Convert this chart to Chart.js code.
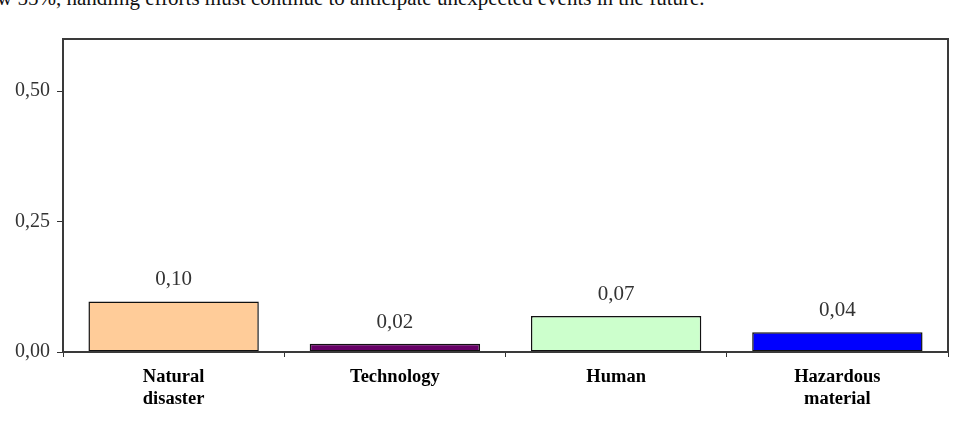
<!DOCTYPE html>
<html>
<head>
<meta charset="utf-8">
<script src="https://cdn.jsdelivr.net/npm/chart.js@4.4.1/dist/chart.umd.min.js"></script>
<style>
	html, body { margin: 0; padding: 0; background: #fff; overflow: hidden; }
	#wrap { position: relative; width: 963px; height: 421px; }
	#note {
		position: absolute; left: -3px; top: -12px; white-space: nowrap; line-height: 21px;
		font-family: 'Liberation Serif', 'Times New Roman', serif; font-size: 21px; color: #111;
	}
	#myChart { position: absolute; left: 0; top: 0; }
</style>
</head>
<body>
<div id="wrap">
	<div id="note">w 55%, handling efforts must continue to anticipate unexpected events in the future.</div>
	<canvas id="myChart" width="963" height="421"></canvas>
</div>
<script>
// data
var categories = [['Natural', 'disaster'], 'Technology', 'Human', ['Hazardous', 'material']];
var values = [0.097, 0.016, 0.069, 0.038];
var barColors = ['#FFCC99', '#660066', '#CCFFCC', '#0000FF'];
var yTicks = [0, 0.25, 0.5];

function comma(v) {
	return v.toFixed(2).replace('.', ',');
}

// value labels above each bar
var valueLabels = {
	id: 'valueLabels',
	afterDatasetsDraw: function(chart) {
		var ctx = chart.ctx;
		var meta = chart.getDatasetMeta(0);
		ctx.save();
		ctx.font = '21px "Liberation Serif", serif';
		ctx.fillStyle = '#333';
		ctx.textAlign = 'center';
		ctx.textBaseline = 'alphabetic';
		meta.data.forEach(function(bar, i) {
			ctx.fillText(comma(values[i]), bar.x, bar.y - 16);
		});
		ctx.restore();
	}
};

// box round the plot area
var frame = {
	id: 'frame',
	afterDraw: function(chart) {
		var a = chart.chartArea;
		var ctx = chart.ctx;
		ctx.save();
		ctx.strokeStyle = '#3a3a3a';
		ctx.lineWidth = 2;
		ctx.strokeRect(a.left, a.top, a.right - a.left, a.bottom - a.top);
		ctx.restore();
	}
};

var ctx = document.getElementById('myChart').getContext('2d');
var myChart = new Chart(ctx, {
	type: 'bar',
	data: {
		labels: categories,
		datasets: [
			{
				data: values,
				backgroundColor: barColors,
				borderColor: '#111',
				borderWidth: 1.5,
				borderSkipped: false,
				barPercentage: 0.77,
				categoryPercentage: 1,
			},
		],
	},
	options: {
		responsive: false,
		animation: false,
		layout: { padding: { left: 0, right: 15, top: 39, bottom: 0 } },
		plugins: {
			legend: { display: false },
			tooltip: { enabled: false },
		},
		scales: {
			x: {
				grid: { display: true, drawOnChartArea: false, tickLength: 5, tickColor: '#333', offset: true },
				border: { display: false },
				ticks: {
					color: '#000',
					padding: 9,
					maxRotation: 0,
					font: { family: '"Liberation Serif", serif', size: 18.5, weight: 'bold', lineHeight: 1.2 },
				},
				afterFit: function(s) { s.height = 69; },
			},
			y: {
				min: 0,
				max: 0.6,
				afterBuildTicks: function(s) {
					s.ticks = yTicks.map(function(v) { return { value: v }; });
				},
				grid: { display: true, drawOnChartArea: false, tickLength: 6, tickColor: '#333' },
				border: { display: false },
				ticks: {
					color: '#333',
					padding: 7,
					font: { family: '"Liberation Serif", serif', size: 20 },
					callback: function(v) { return comma(v); },
				},
				afterFit: function(s) { s.width = 63; },
			},
		},
	},
	plugins: [valueLabels, frame],
});
</script>
</body>
</html>
